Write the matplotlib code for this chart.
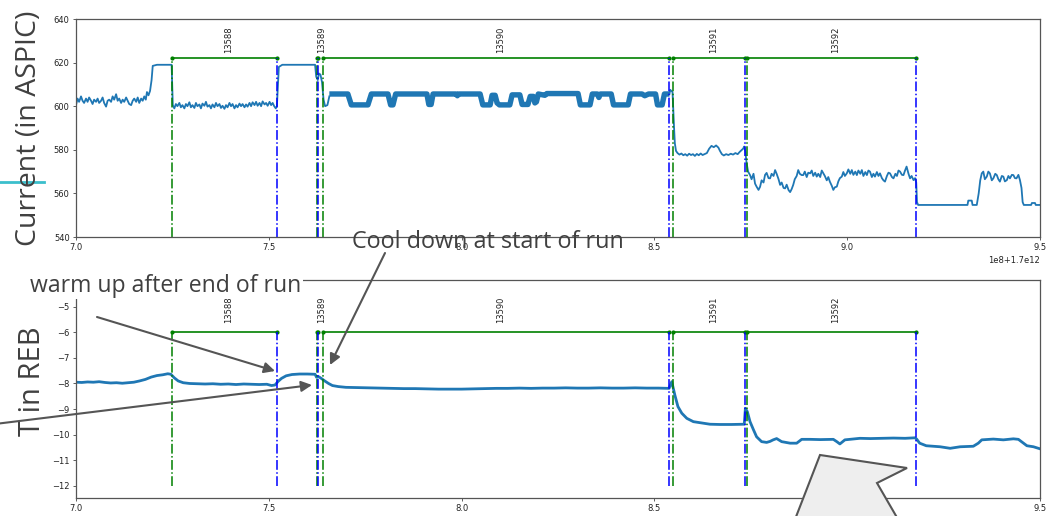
import matplotlib
matplotlib.use("Agg")
import matplotlib.pyplot as plt
from matplotlib.patches import Polygon

# time axis in units of 1e8 ms after 1.7e12
T0 = 1.7e12
SCALE = 1e8

# runs
run_ids = [13588, 13589, 13590, 13591, 13592]
run_start = [7.249, 7.624, 7.640, 8.549, 8.741]
run_end = [7.521, 7.628, 8.539, 8.735, 9.178]

# current, thin noisy parts
cur_u = [7.000, 7.004, 7.008, 7.013, 7.017, 7.021, 7.026, 7.030, 7.034, 7.039, 7.043, 7.047, 7.052, 7.056,
         7.060, 7.065, 7.069, 7.073, 7.078, 7.082, 7.086, 7.091, 7.095, 7.099, 7.104, 7.108, 7.112, 7.117,
         7.121, 7.125, 7.130, 7.134, 7.138, 7.143, 7.147, 7.151, 7.156, 7.160, 7.164, 7.169, 7.173, 7.177,
         7.181, 7.184, 7.188, 7.192, 7.196, 7.199, 7.210, 7.230, 7.248, 7.251,
         7.255, 7.259, 7.263, 7.268, 7.272, 7.276, 7.281, 7.285, 7.289, 7.294, 7.298, 7.302, 7.307, 7.311,
         7.315, 7.320, 7.324, 7.328, 7.333, 7.337, 7.341, 7.346, 7.350, 7.354, 7.359, 7.363, 7.367, 7.372,
         7.376, 7.380, 7.385, 7.389, 7.393, 7.398, 7.402, 7.406, 7.411, 7.415, 7.419, 7.424, 7.428, 7.432,
         7.437, 7.441, 7.445, 7.450, 7.454, 7.458, 7.463, 7.467, 7.471, 7.476, 7.480, 7.484, 7.489, 7.493,
         7.497, 7.502, 7.506, 7.510, 7.514, 7.518, 7.521, 7.526, 7.535, 7.560, 7.590, 7.620, 7.623, 7.627,
         7.630, 7.634, 7.638, 7.642, 7.646, 7.652, 7.657]
cur_v = [600.5, 603.5, 602.0, 604.5, 602.5, 601.5, 603.5, 602.0, 604.0, 602.5, 601.0, 603.0, 602.0, 603.5,
         601.5, 602.5, 604.0, 601.5, 599.8, 602.5, 603.0, 602.0, 604.5, 603.0, 605.5, 602.5, 603.5, 601.5,
         603.0, 602.0, 604.0, 602.5, 601.0, 600.5, 602.5, 603.5, 602.0, 604.0, 601.5, 603.5, 602.5, 604.5,
         603.0, 606.5, 605.0, 607.0, 612.0, 618.5, 619.0, 619.0, 619.0, 600.5,
         599.0, 601.0, 600.0, 601.5, 599.5, 600.5, 599.0, 601.0, 600.0, 601.8, 599.5, 600.5, 599.2, 601.5,
         600.0, 600.8, 599.0, 601.2, 600.2, 602.0, 599.8, 600.5, 599.0, 600.8, 599.5, 601.5, 600.0, 601.0,
         599.2, 600.2, 598.8, 600.5, 599.5, 601.5, 600.0, 601.0, 599.0, 600.5, 599.5, 601.2, 600.0, 601.0,
         599.5, 600.8, 599.8, 601.5, 600.0, 601.8, 600.5, 602.0, 600.2, 601.5, 600.0, 602.2, 600.8, 601.5,
         600.2, 602.0, 600.5, 601.5, 600.0, 599.0, 600.0, 618.0, 619.0, 619.0, 619.0, 619.0, 613.5, 612.0,
         615.0, 614.5, 611.0, 603.0, 600.0, 600.5, 604.5]

# current during run 13590 (fast-switching band, drawn thick)
band_u = [7.657, 7.705, 7.714, 7.757, 7.766, 7.809, 7.816, 7.822, 7.829, 7.910, 7.915, 7.921, 7.926, 7.986,
          7.989, 7.992, 8.048, 8.055, 8.074, 8.079, 8.087, 8.092, 8.098, 8.125, 8.131, 8.151, 8.157, 8.172,
          8.178, 8.186, 8.190, 8.194, 8.199, 8.216, 8.221, 8.302, 8.308, 8.333, 8.339, 8.352, 8.356, 8.360,
          8.388, 8.394, 8.432, 8.438, 8.468, 8.475, 8.485, 8.503, 8.508, 8.520, 8.526, 8.539]
band_v = [605.6, 605.6, 600.6, 600.6, 605.6, 605.6, 600.6, 600.6, 605.6, 605.6, 600.8, 600.8, 605.6, 605.6,
          604.8, 605.6, 605.6, 600.6, 600.6, 605.0, 605.0, 601.5, 600.6, 600.6, 605.2, 605.2, 600.8, 600.8,
          604.5, 604.5, 601.5, 602.0, 605.6, 605.0, 605.8, 605.8, 600.6, 600.6, 605.6, 605.6, 604.0, 605.6,
          605.6, 600.6, 600.6, 605.6, 605.6, 604.8, 605.6, 605.6, 600.6, 600.6, 605.6, 605.6]

# current after run 13590
cur2_u = [8.539, 8.541, 8.547, 8.551, 8.553, 8.556, 8.560, 8.565, 8.570, 8.575, 8.580, 8.585, 8.590, 8.595,
          8.600, 8.605, 8.610, 8.615, 8.620, 8.625, 8.630, 8.636, 8.642, 8.648, 8.654, 8.660, 8.666, 8.670,
          8.675, 8.680, 8.686, 8.692, 8.698, 8.704, 8.710, 8.716, 8.721, 8.726, 8.730, 8.733, 8.736, 8.739,
          8.743, 8.748, 8.752, 8.757, 8.761, 8.765, 8.770, 8.774, 8.778, 8.783, 8.787, 8.791, 8.796, 8.800,
          8.804, 8.809, 8.813, 8.817, 8.822, 8.826, 8.830, 8.835, 8.839, 8.843, 8.848, 8.852, 8.856, 8.860,
          8.864, 8.869, 8.873, 8.877, 8.882, 8.886, 8.890, 8.895, 8.899, 8.904, 8.908, 8.912, 8.917, 8.921,
          8.925, 8.930, 8.934, 8.938, 8.942, 8.947, 8.951, 8.955, 8.960, 8.964, 8.968, 8.973, 8.977, 8.981,
          8.986, 8.990, 8.994, 8.999, 9.003, 9.008, 9.012, 9.016, 9.021, 9.025, 9.029, 9.034, 9.038, 9.042,
          9.047, 9.051, 9.055, 9.059, 9.064, 9.068, 9.072, 9.077, 9.081, 9.085, 9.090, 9.094, 9.098, 9.103,
          9.107, 9.111, 9.116, 9.120, 9.125, 9.129, 9.133, 9.137, 9.142, 9.146, 9.150, 9.154, 9.159, 9.163,
          9.167, 9.172, 9.176, 9.179, 9.181, 9.184, 9.250, 9.312, 9.314, 9.323, 9.325, 9.336, 9.341, 9.345,
          9.349, 9.353, 9.357, 9.362, 9.366, 9.370, 9.375, 9.379, 9.384, 9.388, 9.392, 9.396, 9.401, 9.405,
          9.409, 9.414, 9.418, 9.422, 9.427, 9.431, 9.435, 9.439, 9.444, 9.448, 9.452, 9.455, 9.458, 9.477,
          9.479, 9.487, 9.489, 9.500]
cur2_v = [605.6, 607.5, 606.5, 590.0, 583.0, 579.5, 578.5, 577.8, 578.3, 577.5, 578.0, 577.3, 578.2, 577.6,
          578.0, 577.2, 578.1, 577.5, 578.3, 577.6, 578.0, 578.5, 580.5, 581.8, 581.2, 582.0, 581.0, 579.5,
          578.0, 577.4, 578.0, 577.6, 578.2, 577.8, 578.5, 578.0, 579.0, 579.8, 580.5, 581.5, 579.0, 574.0,
          570.0, 568.4, 566.5, 569.0, 564.5, 563.1, 561.6, 563.0, 566.0, 565.0, 568.5, 569.4, 567.0, 566.9,
          569.0, 568.0, 570.7, 569.0, 566.5, 563.9, 565.0, 562.5, 562.3, 564.0, 561.5, 560.6, 562.0, 563.9,
          566.5, 568.0, 570.7, 569.0, 568.4, 568.4, 570.0, 567.5, 569.5, 569.2, 570.5, 568.0, 569.5, 567.7,
          569.0, 567.5, 570.5, 569.2, 568.0, 566.0, 567.5, 565.4, 563.5, 561.6, 562.8, 563.1, 565.5, 567.0,
          567.7, 569.8, 568.0, 569.2, 571.0, 569.0, 570.7, 568.5, 570.0, 568.4, 570.5, 569.0, 570.7, 568.0,
          569.8, 568.4, 570.5, 570.0, 567.5, 569.0, 567.7, 569.8, 568.0, 569.2, 567.0, 566.0, 565.4, 568.0,
          569.5, 569.2, 567.5, 566.9, 569.0, 568.0, 570.5, 570.0, 568.5, 568.4, 570.5, 572.3, 569.0, 566.9,
          568.0, 566.1, 567.0, 565.0, 556.0, 554.7, 554.7, 554.7, 556.7, 556.7, 554.7, 554.7, 560.0, 566.0,
          569.2, 570.0, 566.5, 567.7, 570.0, 569.2, 566.0, 566.9, 569.0, 568.4, 566.5, 565.4, 568.0, 567.7,
          565.5, 566.1, 568.0, 566.9, 568.5, 568.4, 567.0, 566.9, 568.5, 566.1, 562.5, 556.0, 554.7, 554.7,
          555.6, 555.6, 554.7, 554.7]

# temperature in REB
temp_u = [7.000, 7.015, 7.030, 7.045, 7.060, 7.075, 7.090, 7.105, 7.120, 7.135, 7.150, 7.165, 7.180, 7.195,
          7.210, 7.225, 7.238, 7.246, 7.255, 7.265, 7.278, 7.295, 7.315, 7.335, 7.355, 7.375, 7.395, 7.415,
          7.435, 7.455, 7.475, 7.495, 7.507, 7.516, 7.524, 7.533, 7.545, 7.560, 7.580, 7.600, 7.620, 7.624,
          7.630, 7.636, 7.645, 7.655, 7.665, 7.680, 7.700, 7.730, 7.760, 7.790, 7.820, 7.850, 7.880, 7.910,
          7.940, 7.970, 8.000, 8.030, 8.060, 8.090, 8.120, 8.150, 8.180, 8.210, 8.240, 8.270, 8.300, 8.330,
          8.360, 8.390, 8.420, 8.450, 8.480, 8.510, 8.538, 8.545, 8.553, 8.561, 8.571, 8.584, 8.601, 8.618,
          8.630, 8.644, 8.670, 8.700, 8.733, 8.736, 8.741, 8.748, 8.757, 8.765, 8.778, 8.791, 8.800, 8.808,
          8.817, 8.830, 8.852, 8.869, 8.882, 8.904, 8.930, 8.964, 8.973, 8.981, 8.994, 9.033, 9.060, 9.090,
          9.120, 9.150, 9.176, 9.180, 9.188, 9.205, 9.241, 9.267, 9.293, 9.327, 9.340, 9.349, 9.379, 9.405,
          9.431, 9.444, 9.457, 9.466, 9.483, 9.496, 9.500]
temp_v = [-7.95, -7.96, -7.94, -7.95, -7.93, -7.96, -7.98, -7.97, -7.99, -7.97, -7.95, -7.90, -7.84, -7.75,
          -7.69, -7.66, -7.62, -7.64, -7.78, -7.90, -7.97, -8.00, -8.01, -8.02, -8.01, -8.03, -8.02, -8.04,
          -8.02, -8.03, -8.04, -8.03, -8.08, -8.06, -7.92, -7.80, -7.70, -7.65, -7.63, -7.63, -7.64, -7.76,
          -7.74, -7.80, -7.90, -8.00, -8.08, -8.12, -8.15, -8.16, -8.17, -8.18, -8.19, -8.20, -8.20, -8.21,
          -8.22, -8.22, -8.22, -8.21, -8.20, -8.19, -8.19, -8.18, -8.19, -8.18, -8.18, -8.17, -8.18, -8.18,
          -8.17, -8.18, -8.18, -8.17, -8.18, -8.18, -8.19, -7.93, -8.45, -8.90, -9.16, -9.36, -9.49, -9.53,
          -9.56, -9.59, -9.60, -9.60, -9.59, -8.97, -9.10, -9.49, -9.81, -10.08, -10.27, -10.30, -10.26, -10.20,
          -10.15, -10.27, -10.33, -10.33, -10.18, -10.18, -10.19, -10.18, -10.27, -10.36, -10.20, -10.14, -10.15, -10.14,
          -10.13, -10.14, -10.12, -10.17, -10.33, -10.43, -10.47, -10.53, -10.47, -10.45, -10.33, -10.20, -10.17, -10.20,
          -10.16, -10.18, -10.33, -10.43, -10.47, -10.53, -10.55]


def ts(us):
    return [T0 + u * SCALE for u in us]


W, H = 1048, 516
fig = plt.figure(figsize=(W / 100, H / 100), dpi=100)
ax1 = fig.add_axes([76 / W, (H - 237) / H, 964 / W, 218 / H])
ax2 = fig.add_axes([76 / W, (H - 498) / H, 964 / W, 218 / H])

line_c = '#1f77b4'
ax1.plot(ts(cur_u), cur_v, color=line_c, lw=1.3)
ax1.plot(ts(band_u), band_v, color=line_c, lw=3.9, solid_capstyle='butt')
ax1.plot(ts(cur2_u), cur2_v, color=line_c, lw=1.3)
ax2.plot(ts(temp_u), temp_v, color=line_c, lw=2.0)


def draw_runs(ax, level, bottom, label_y):
    for rid, s, e in zip(run_ids, run_start, run_end):
        ts_s, ts_e = T0 + s * SCALE, T0 + e * SCALE
        ax.plot([ts_s, ts_e], [level, level], 'g.-', lw=1.2, ms=4)
        ax.plot([ts_s, ts_s], [bottom, level], 'g-.', lw=1.1)
        ax.plot([ts_e, ts_e], [bottom, level], 'b-.', lw=1.1)
        ax.text((ts_s + ts_e) / 2, label_y, str(rid), rotation=90, ha='left', va='bottom',
                fontsize=6, color='#222222')


draw_runs(ax1, 622, 540, 624.6)
draw_runs(ax2, -6, -12, -5.62)

ax1.set_ylim(540, 640)
ax1.set_yticks([540, 560, 580, 600, 620, 640])
ax2.set_ylim(-12.47, -3.96)
ax2.set_yticks([-12, -11, -10, -9, -8, -7, -6, -5])
for ax in (ax1, ax2):
    ax.set_xlim(T0 + 7.0 * SCALE, T0 + 9.5 * SCALE)
    ax.tick_params(labelsize=6, length=2.5, width=0.6, color='#444444', labelcolor='#222222', pad=2)
    ax.xaxis.get_offset_text().set_fontsize(6)
    for sp in ax.spines.values():
        sp.set_color('#555555')
        sp.set_linewidth(0.9)

# slide overlay (pixel coordinates)
ov = fig.add_axes([0, 0, 1, 1])
ov.set_xlim(0, W)
ov.set_ylim(H, 0)
ov.axis('off')
ov.patch.set_alpha(0)

txt_c = '#404040'
ov.plot([0, 44], [182, 182], color='#3bbfcc', lw=2)
ov.text(29, 128, 'Current (in ASPIC)', rotation=90, ha='center', va='center',
        fontsize=20.5, family='Open Sans', color=txt_c)
ov.text(33, 381, 'T in REB', rotation=90, ha='center', va='center',
        fontsize=21, family='Open Sans', color=txt_c)
ov.text(30, 292, 'warm up after end of run', ha='left', va='baseline', fontsize=16.6,
        family='Open Sans', color=txt_c,
        bbox=dict(facecolor='white', edgecolor='none', pad=1))
ov.text(352, 248, 'Cool down at start of run', ha='left', va='baseline', fontsize=16.8,
        family='Open Sans', color=txt_c)

arrow = dict(arrowstyle='-|>', color='#555555', lw=1.5, mutation_scale=16, shrinkA=0, shrinkB=0)
ov.annotate('', xy=(275, 371), xytext=(97, 317), arrowprops=arrow)
ov.annotate('', xy=(312, 385), xytext=(-5, 424), arrowprops=arrow)
ov.annotate('', xy=(330, 365), xytext=(385, 253), arrowprops=arrow)

ov.add_patch(Polygon([(820, 455), (907, 468), (877, 483), (910, 540), (787, 540)], closed=True,
                     facecolor='#eeeeee', edgecolor='#555555', lw=1.5))

fig.savefig('out.png', dpi=100)
